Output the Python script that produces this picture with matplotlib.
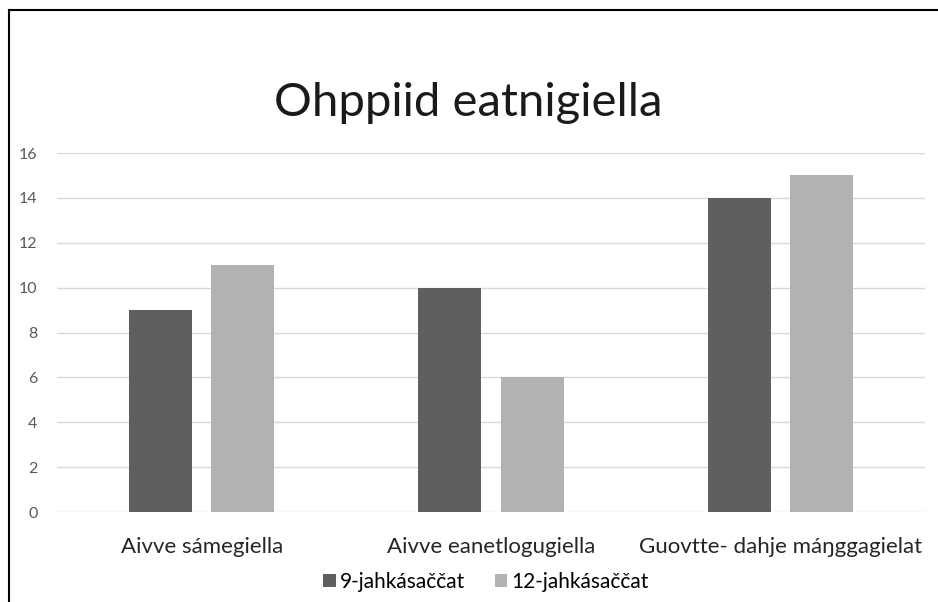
import matplotlib.pyplot as plt
import numpy as np
from matplotlib.lines import Line2D

categories = ['Aivve sámegiella', 'Aivve eanetlogugiella', 'Guovtte- dahje máŋggagielat']
series_names = ['9-jahkásaččat', '12-jahkásaččat']
values_9 = [9, 10, 14]
values_12 = [11, 6, 15]
yticks = [0, 2, 4, 6, 8, 10, 12, 14, 16]

plt.rcParams['font.family'] = ['Lato', 'DejaVu Sans']

W, H = 938, 602
fig = plt.figure(figsize=(W / 100, H / 100), dpi=100)
ax = fig.add_axes([57 / W, 1 - 512 / H, (925 - 57) / W, (512 - 153) / H])

x = np.arange(len(categories))
width = 0.218
off = 0.142
b1 = ax.bar(x - off, values_9, width, color='#5f5f5f', label=series_names[0], zorder=3)
b2 = ax.bar(x + off, values_12, width, color='#b2b2b2', label=series_names[1], zorder=3)

ax.set_xlim(-0.5, 2.5)
ax.set_ylim(0, 16)
ax.set_yticks(yticks)
ax.yaxis.grid(True, color='#d9d9d9', linewidth=1.0, zorder=0)
for s in ax.spines.values():
    s.set_visible(False)
ax.tick_params(axis='y', length=0, labelsize=11.5, labelcolor='#595959', pad=14)
ax.tick_params(axis='x', length=0, labelsize=16, labelcolor='#262626', pad=18)
ax.set_xticks(x, labels=categories)

fig.text(468 / W, 1 - 103 / H, 'Ohppiid eatnigiella', ha='center', va='center',
         fontsize=34, color='#1a1a1a')

fig.legend(handles=[b1, b2], loc='center', bbox_to_anchor=(486 / W, 1 - 582 / H),
           ncol=2, frameon=False, fontsize=15, handlelength=0.6, handleheight=0.6,
           handletextpad=0.2, columnspacing=1.4)

# border of the chart area (left and top visible)
fig.add_artist(Line2D([9 / W, 9 / W], [0, 1 - 10 / H], color='black', linewidth=1.5,
                      transform=fig.transFigure))
fig.add_artist(Line2D([9 / W, 1], [1 - 10 / H, 1 - 10 / H], color='black', linewidth=1.5,
                      transform=fig.transFigure))

fig.savefig('out.png', dpi=100)
